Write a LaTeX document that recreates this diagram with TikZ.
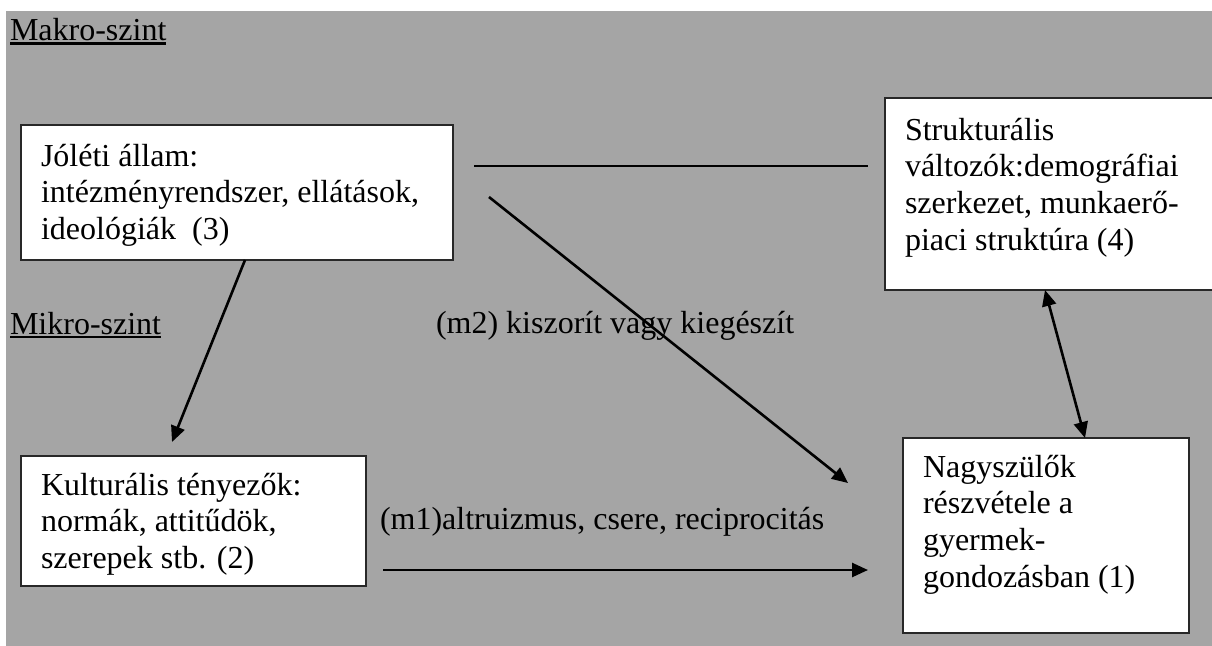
\documentclass[tikz,border=0pt]{standalone}
\usepackage{fontspec}
\setmainfont{Liberation Serif}
\usetikzlibrary{arrows.meta}
\definecolor{bggray}{RGB}{165,165,165}
\definecolor{edgegray}{RGB}{40,40,40}
\tikzset{
  box/.style={draw=edgegray, line width=1.3pt, fill=white, anchor=north west,
    inner sep=0pt, outer sep=0pt, font=\fontsize{32}{36.8}\selectfont},
  lbl/.style={anchor=base west, inner sep=0pt, outer sep=0pt, font=\fontsize{32}{36.8}\selectfont},
  tip/.style={-{Triangle[length=16pt,width=14pt]}},
  arr/.style={line width=2.6pt, tip},
  dblarr/.style={line width=2.6pt, {Triangle[length=16pt,width=14pt]}-{Triangle[length=16pt,width=14pt]}},
  plainline/.style={line width=1.6pt},
  uline/.style={line width=2.2pt},
}
\newcommand{\boxtext}[4]{%
  \begin{minipage}[t][#2][t]{#1}\raggedright\leftskip=20pt\parindent=0pt\rule{0pt}{#3}#4\end{minipage}}
\begin{document}
\begin{tikzpicture}[x=1pt,y=-1pt]
\useasboundingbox (0,0) rectangle (1212,645);
\clip (0,0) rectangle (1212,645);
\fill[bggray] (6,11) rectangle (1220,650);

% labels of levels
\node[lbl] (mak) at (10,40.5) {Makro-szint};
\draw[uline] ([yshift=-3pt]mak.base west) -- ([yshift=-3pt]mak.base east);
\node[lbl] (mik) at (10,334) {Mikro-szint};
\draw[uline] ([yshift=-3pt]mik.base west) -- ([yshift=-3pt]mik.base east);

% boxes
\node[box] (n3) at (21,125) {\boxtext{432pt}{135pt}{41pt}{J\'ol\'eti \'allam:\\ int\'ezm\'enyrendszer, ell\'at\'asok,\\ ideol\'ogi\'ak~~(3)}};
\node[box] (n4) at (885,98) {\boxtext{331pt}{192pt}{42pt}{Struktur\'alis\\ v\'altoz\'ok:demogr\'afiai\\ szerkezet, munkaer\H{o}-\\ piaci strukt\'ura (4)}};
\node[box] (n2) at (21,456) {\boxtext{345pt}{130pt}{39pt}{Kultur\'alis t\'enyez\H{o}k:\\ norm\'ak, attit\H{u}d\"ok,\\ szerepek stb. (2)}};
\node[box] (n1) at (903,438) {\boxtext{286pt}{195pt}{39pt}{Nagysz\"ul\H{o}k\\ r\'eszv\'etele a\\ gyermek-\\ gondoz\'asban (1)}};

% edge labels
\node[lbl] (m2) at (436,333) {(m2) kiszor\'it vagy kieg\'esz\'it};
\node[lbl] (m1) at (380,529) {(m1)altruizmus, csere, reciprocit\'as};

% free ends
\coordinate (hA) at (474,166);
\coordinate (hB) at (868,166);
\coordinate (dA) at (489,197);
\coordinate (dB) at (848,483);
\coordinate (vB) at (172,442);
\coordinate (mA) at (383,570);
\coordinate (mB) at (868,570);

% connectors
\draw[plainline] (hA) -- (hB);
\draw[arr] (dA) -- (dB);
\draw[arr] ([xshift=8pt]n3.south) -- (vB);
\draw[arr] (mA) -- (mB);
\draw[dblarr] ([xshift=160pt]n4.south west) -- ([xshift=182pt]n1.north west);
\end{tikzpicture}
\end{document}
